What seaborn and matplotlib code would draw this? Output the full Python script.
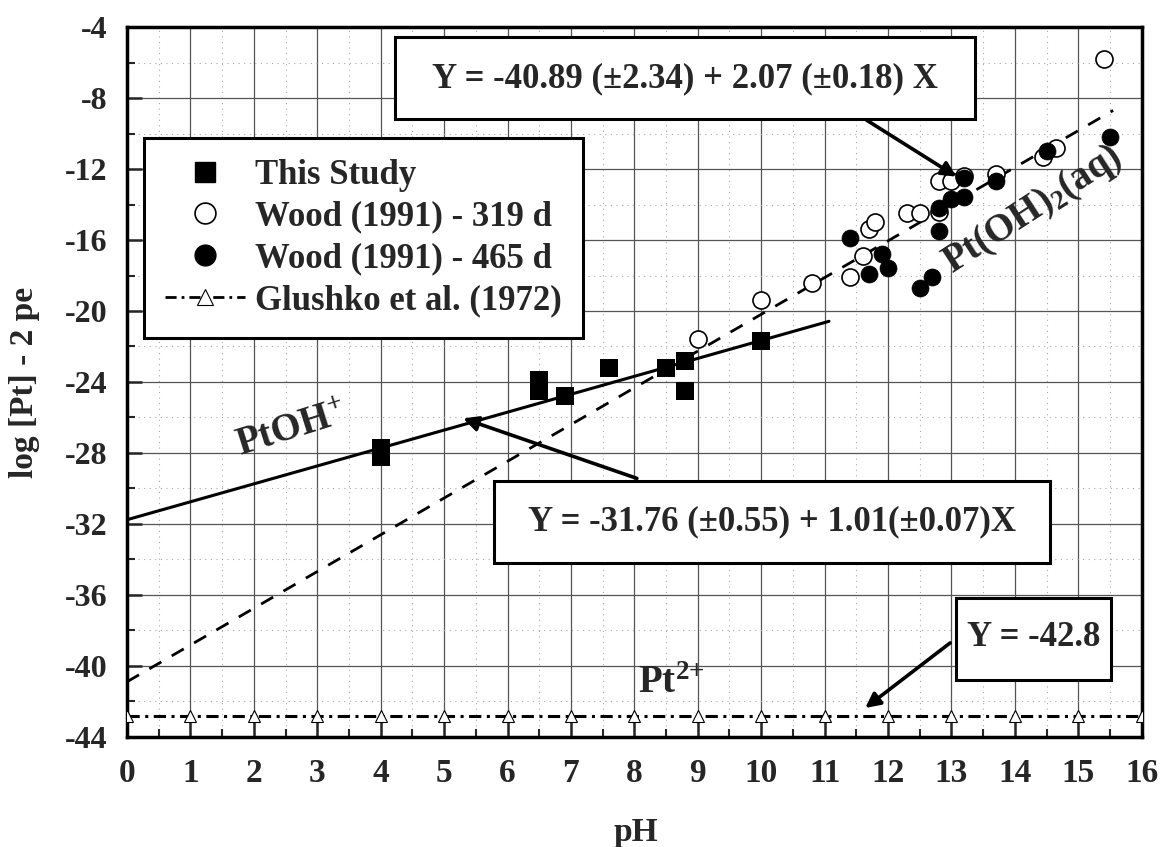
import matplotlib
matplotlib.use("Agg")
import matplotlib.pyplot as plt
import seaborn as sns
import numpy as np
from matplotlib.lines import Line2D
from matplotlib.patches import Rectangle
from matplotlib.ticker import MultipleLocator

# ---------------- data ----------------
study_ph = [4.0, 4.0, 6.5, 6.5, 6.9, 7.6, 8.5, 8.8, 8.8, 10.0]
study_y = [-27.7, -28.2, -23.9, -24.5, -24.8, -23.2, -23.2, -22.8, -24.5, -21.7]

wood319_ph = [9.0, 10.0, 10.8, 11.4, 11.6, 11.7, 11.8, 12.3, 12.5, 12.8, 12.8,
              13.0, 13.2, 13.7, 14.45, 14.65, 15.4]
wood319_y = [-21.6, -19.4, -18.4, -18.1, -16.9, -15.4, -15.0, -14.5, -14.5, -14.4,
             -12.7, -12.7, -12.4, -12.3, -11.35, -10.8, -5.8]

wood465_ph = [11.4, 11.7, 11.9, 12.0, 12.5, 12.7, 12.8, 12.8, 13.0, 13.2, 13.2,
              13.7, 14.5, 15.5]
wood465_y = [-15.9, -17.9, -16.8, -17.6, -18.7, -18.1, -15.5, -14.2, -13.7, -13.6,
             -12.5, -12.7, -11.0, -10.2]

glushko_ph = [0, 1, 2, 3, 4, 5, 6, 7, 8, 9, 10, 11, 12, 13, 14, 15, 16]
glushko_y = [-42.8] * 17

ptoh_fit_ph = [0.0, 11.07]
ptoh_fit_y = [-31.76, -20.58]
ptoh2_fit_ph = [0.0, 15.55]
ptoh2_fit_y = [-40.89, -8.70]

legend_labels = ["This Study", "Wood (1991) - 319 d", "Wood (1991) - 465 d",
                 "Glushko et al. (1972)"]
eq1 = "Y = -40.89 (\u00b12.34) + 2.07 (\u00b10.18) X"
eq2 = "Y = -31.76 (\u00b10.55) + 1.01(\u00b10.07)X"
eq3 = "Y = -42.8"

# ---------------- style ----------------
sns.set_style("ticks")
plt.rcParams["font.family"] = ["Liberation Serif", "DejaVu Serif"]
plt.rcParams["font.weight"] = "bold"
plt.rcParams["axes.unicode_minus"] = False
plt.rcParams["mathtext.fontset"] = "custom"
plt.rcParams["mathtext.rm"] = "Liberation Serif:bold"
plt.rcParams["mathtext.it"] = "Liberation Serif:bold"
plt.rcParams["mathtext.bf"] = "Liberation Serif:bold"

fig = plt.figure(figsize=(11.62, 8.47), dpi=100)
ax = fig.add_axes([0.1093, 0.1299, 0.8732, 0.8382])

# fit lines
sns.lineplot(x=ptoh_fit_ph, y=ptoh_fit_y, ax=ax, color="black", lw=2.2,
             estimator=None, sort=False, zorder=3)
sns.lineplot(x=ptoh2_fit_ph, y=ptoh2_fit_y, ax=ax, color="black", lw=2.0,
             estimator=None, sort=False, zorder=3, linestyle=(0, (5.0, 4.3)))
# Glushko line
sns.lineplot(x=glushko_ph, y=glushko_y, ax=ax, color="black", lw=2.2,
             estimator=None, sort=False, zorder=3,
             linestyle=(0, (4.0, 1.8, 1.0, 1.8)),
             marker="^", markersize=9, markerfacecolor="white",
             markeredgecolor="black", markeredgewidth=0.8)

# points
sns.scatterplot(x=study_ph, y=study_y, ax=ax, marker="s", s=150, color="black",
                edgecolor="black", linewidth=0, zorder=4)
sns.scatterplot(x=wood319_ph, y=wood319_y, ax=ax, marker="o", s=150,
                facecolor="white", edgecolor="black", linewidth=1.2, zorder=4)
sns.scatterplot(x=wood465_ph, y=wood465_y, ax=ax, marker="o", s=150,
                color="black", edgecolor="black", linewidth=0.5, zorder=5)

# axes
ax.set_xlim(0, 16)
ax.set_ylim(-44, -4)
ax.xaxis.set_major_locator(MultipleLocator(1))
ax.xaxis.set_minor_locator(MultipleLocator(0.5))
ax.yaxis.set_major_locator(MultipleLocator(4))
ax.yaxis.set_minor_locator(MultipleLocator(2))
ax.set_axisbelow(True)
ax.grid(which="major", color="#555555", lw=0.9)
ax.grid(which="minor", color="#aaaaaa", lw=0.8, ls=(0, (1, 4)))
for sp in ax.spines.values():
    sp.set_visible(True)
    sp.set_linewidth(2.5)
    sp.set_color("black")
ax.tick_params(which="major", direction="in", length=11, width=1.8,
               top=False, right=False)
ax.tick_params(which="minor", direction="in", length=6, width=1.5,
               top=False, right=False)
ax.tick_params(axis="x", which="major", labelsize=24, pad=15)
ax.tick_params(axis="y", which="major", labelsize=23, pad=14)
for lab in ax.get_xticklabels() + ax.get_yticklabels():
    lab.set_fontweight("bold")
ax.set_xlabel("")
ax.set_ylabel("")

fig.text(25 / 1162, 1 - 382 / 847, "log [Pt] - 2 pe", rotation=90, ha="center",
         va="center", fontsize=24, fontweight="bold")
fig.text(636 / 1162, 1 - 832 / 847, "pH", ha="center", va="center",
         fontsize=24, fontweight="bold")

# legend
handles = [
    Line2D([], [], ls="none", marker="s", ms=14, color="black"),
    Line2D([], [], ls="none", marker="o", ms=15, markerfacecolor="white",
           markeredgecolor="black", markeredgewidth=1.2),
    Line2D([], [], ls="none", marker="o", ms=15, color="black"),
    Line2D([], [], color="black", lw=2.0, ls=(0, (4.0, 1.8, 1.0, 1.8)),
           marker="^", ms=11, markerfacecolor="white", markeredgecolor="black",
           markeredgewidth=0.8),
]
leg = ax.legend(handles, legend_labels, loc="upper left",
                bbox_to_anchor=(0.0168, 0.8437), borderaxespad=0,
                frameon=True, fancybox=False,
                framealpha=1, edgecolor="black", handlelength=2.3,
                handletextpad=0.3, labelspacing=0.25, borderpad=0.6,
                prop={"family": "Liberation Serif", "weight": "bold", "size": 25},
                numpoints=1)
leg.get_frame().set_linewidth(2.2)
leg.set_zorder(10)

# equation boxes
def box(x0, x1, y0, y1, text, tx, ty):
    ax.add_patch(Rectangle((x0, y0), x1 - x0, y1 - y0, facecolor="white",
                           edgecolor="black", lw=2.2, zorder=7))
    ax.text(tx, ty, text, ha="center", va="center", fontsize=25,
            fontweight="bold", zorder=8)

box(4.23, 13.37, -9.18, -4.56, eq1, 8.80, -6.89)
box(5.78, 14.55, -34.2, -29.58, eq2, 10.17, -31.87)
box(13.08, 15.52, -40.79, -36.17, eq3, 14.30, -38.42)

arrow = dict(arrowstyle="-|>", lw=2.6, color="black", mutation_scale=22,
             shrinkA=0, shrinkB=0)
ax.annotate("", xy=(13.08, -12.43), xytext=(11.66, -9.24), arrowprops=arrow,
            zorder=6)
ax.annotate("", xy=(5.30, -26.05), xytext=(8.04, -29.43), arrowprops=arrow,
            zorder=6)
ax.annotate("", xy=(11.64, -42.37), xytext=(12.98, -38.7), arrowprops=arrow,
            zorder=6)

# species labels
ax.text(2.60, -26.7, r"PtOH$^{+}$", rotation=17.5, rotation_mode="anchor",
        ha="center", va="center", fontsize=28, fontweight="bold", zorder=6)
ax.text(14.29, -14.31, r"Pt(OH)$_{2}$(aq)", rotation=33, rotation_mode="anchor",
        ha="center", va="center", fontsize=28, fontweight="bold", zorder=6)
ax.text(8.06, -41.52, r"Pt$^{2{+}}$", ha="left", va="baseline", fontsize=28,
        fontweight="bold", zorder=6)

fig.savefig("out.png", dpi=100)
